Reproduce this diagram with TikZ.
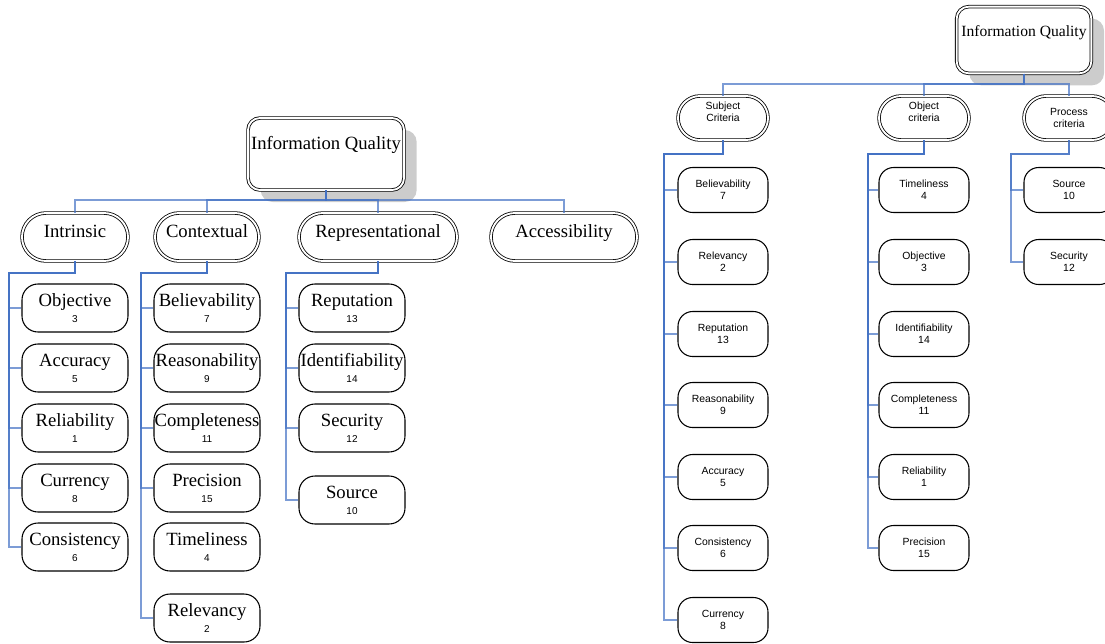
\documentclass[tikz,border=0pt]{standalone}
\usepackage{fontspec}
\setmainfont{Liberation Serif}
\newfontfamily\arialfont{Liberation Sans}
\usetikzlibrary{shadows}

\definecolor{connblue}{RGB}{68,114,196}
\newcommand\leaffont{\fontsize{14}{12}\selectfont}
\newcommand\digitfont{\arialfont\fontsize{7.5}{12}\selectfont}
\newcommand\rightfont{\arialfont\fontsize{7.8}{9}\selectfont}

\tikzset{
  conn/.style={draw=connblue, line width=1pt, draw opacity=0.7},
  rootbox/.style={draw, double, double distance=1.4pt, line width=0.6pt,
    rounded corners=9pt, fill=white, inner sep=0pt,
    drop shadow={shadow xshift=9.5pt, shadow yshift=-9pt, fill=black!20, opacity=1}},
  groupbox/.style={draw, double, double distance=1.4pt, line width=0.6pt,
    fill=white, inner sep=0pt},
  leafbox/.style={draw, line width=0.8pt, fill=white, rounded corners=12pt,
    inner sep=0pt, align=center, minimum width=79.5pt, minimum height=36pt,
    font=\leaffont},
  rgroupbox/.style={groupbox, align=center, font=\rightfont,
    minimum width=67.5pt, minimum height=33pt, rounded corners=16.5pt},
  rleafbox/.style={leafbox, font=\rightfont, minimum width=67.5pt,
    minimum height=33.75pt, rounded corners=11pt}
}

\begin{document}
\begin{tikzpicture}[x=0.75pt, y=-0.75pt]
  \useasboundingbox (0,0) rectangle (1105,643);
  \clip (0,0) rectangle (1105,643);

  % left chart
  \node[rootbox, minimum width=117pt, minimum height=54pt, text height=10pt,
    text depth=17pt, font=\leaffont] (iq) at (326,154) {Information Quality};
  \coordinate (lbus) at (0,200);
  \foreach \name/\x/\w/\txt in {intr/75/79.5/Intrinsic, ctx/207/78/Contextual,
      rep/378/118.5/Representational, acc/564/109.5/Accessibility} {
    \node[groupbox, minimum width=\w pt, minimum height=36pt, rounded corners=18pt,
      text height=10pt, text depth=10pt, font=\leaffont] (\name) at (\x,237) {\txt};
    \draw[conn] (iq.south) -- (iq.south |- lbus) -| (\name.north);
  }

  \foreach \i/\txt/\n/\y in {1/Objective/3/308, 2/Accuracy/5/368, 3/Reliability/1/428,
      4/Currency/8/488, 5/Consistency/6/547} {
    \node[leafbox] (intr\i) at (75,\y) {\txt\\{\digitfont \n}};
    \draw[conn] (intr.south) |- (9,273) |- (intr\i.west);
  }

  \foreach \i/\txt/\n/\y in {1/Believability/7/308, 2/Reasonability/9/368,
      3/Completeness/11/428, 4/Precision/15/488, 5/Timeliness/4/547, 6/Relevancy/2/618}
    \node[leafbox] (ctx\i) at (207,\y) {\txt\\{\digitfont \n}};
  \foreach \i in {1,2,3,4,6}
    \draw[conn] (ctx.south) |- (141,273) |- (ctx\i.west);

  \foreach \i/\txt/\n/\y in {1/Reputation/13/308, 2/Identifiability/14/368,
      3/Security/12/428, 4/Source/10/500} {
    \node[leafbox] (rep\i) at (352,\y) {\txt\\{\digitfont \n}};
    \draw[conn] (rep.south) |- (286,273) |- (rep\i.west);
  }

  % right chart
  \node[rootbox, minimum width=101pt, minimum height=50pt, text height=9pt,
    text depth=15pt, font=\fontsize{11.7}{14}\selectfont] (riq) at (1024,40)
    {Information Quality};
  \coordinate (rbus) at (0,84);
  \node[rgroupbox] (subj) at (723,118) {Subject\\Criteria\\\mbox{}};
  \node[rgroupbox] (obj) at (924,118) {Object\\criteria\\\mbox{}};
  \node[rgroupbox] (proc) at (1069,118) {Process\\criteria};
  \foreach \name in {subj,obj,proc}
    \draw[conn] (riq.south) -- (riq.south |- rbus) -| (\name.north);

  \foreach \i/\txt/\n/\y in {1/Believability/7/190, 2/Relevancy/2/262, 3/Reputation/13/334,
      4/Reasonability/9/405, 5/Accuracy/5/477, 6/Consistency/6/548, 7/Currency/8/620} {
    \node[rleafbox] (subj\i) at (723,\y) {\txt\\\n};
    \draw[conn] (subj.south) |- (664,154) |- (subj\i.west);
  }

  \foreach \i/\txt/\n/\y in {1/Timeliness/4/190, 2/Objective/3/262, 3/Identifiability/14/334,
      4/Completeness/11/405, 5/Reliability/1/477, 6/Precision/15/548} {
    \node[rleafbox] (obj\i) at (924,\y) {\txt\\\n};
    \draw[conn] (obj.south) |- (868,154) |- (obj\i.west);
  }

  \foreach \i/\txt/\n/\y in {1/Source/10/190, 2/Security/12/262} {
    \node[rleafbox] (proc\i) at (1069,\y) {\txt\\\n};
    \draw[conn] (proc.south) |- (1011,154) |- (proc\i.west);
  }
\end{tikzpicture}
\end{document}
